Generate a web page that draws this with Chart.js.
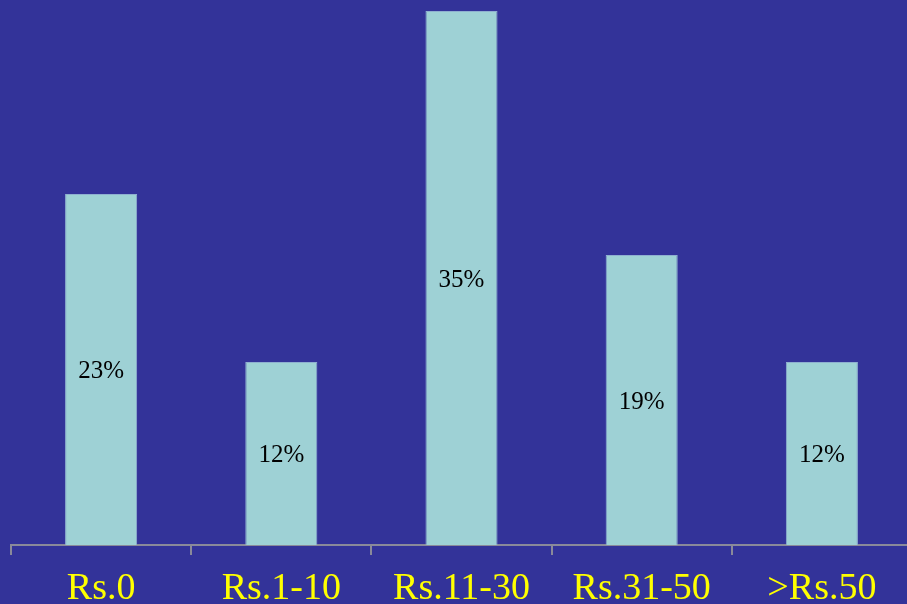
<!DOCTYPE html>
<html>
<head>
<meta charset="utf-8">
<script src="https://cdn.jsdelivr.net/npm/chart.js@4"></script>
<style>
  html, body { margin: 0; padding: 0; overflow: hidden; background: #333399; }
  #wrap { position: absolute; left: 0; top: 0; width: 912px; height: 604px; }
</style>
</head>
<body>
<div id="wrap"><canvas id="myChart" width="912" height="604"></canvas></div>
<script>
// Dados
const categories = ['Rs.0', 'Rs.1-10', 'Rs.11-30', 'Rs.31-50', '>Rs.50'];
const shares = [23, 12, 35, 19, 12];

// escreve o valor no meio de cada barra
const barLabels = {
    id: 'barLabels',
    afterDatasetsDraw(chart) {
        const ctx = chart.ctx;
        const meta = chart.getDatasetMeta(0);
        ctx.save();
        ctx.fillStyle = '#000000';
        ctx.font = '25px "Liberation Serif", "Times New Roman", serif';
        ctx.textAlign = 'center';
        ctx.textBaseline = 'middle';
        meta.data.forEach((bar, i) => {
            const mid = (bar.y + bar.base) / 2;
            ctx.fillText(shares[i] + '%', bar.x, mid + 2);
        });
        ctx.restore();
    }
};

const ctx = document.getElementById('myChart').getContext('2d');
const myChart = new Chart(ctx, {
    type: 'bar',
    data: {
        labels: categories,
        datasets: [{
            data: shares,
            backgroundColor: '#9ED1D5',
            borderColor: '#8FB0D0',
            borderWidth: 1,
            categoryPercentage: 1,
            barPercentage: 0.4
        }]
    },
    options: {
        responsive: false,
        animation: false,
        layout: { padding: { left: 11, right: 0, top: 11, bottom: 0 } },
        plugins: { legend: { display: false }, tooltip: { enabled: false } },
        scales: {
            y: {
                display: false,
                min: 0,
                max: 35
            },
            x: {
                offset: true,
                afterFit(scale) { scale.height = 59; },
                grid: {
                    offset: true,
                    drawOnChartArea: false,
                    color: '#8A8A9A',
                    lineWidth: 2,
                    tickLength: 10
                },
                border: { color: '#8A8A9A', width: 2 },
                ticks: {
                    color: '#FFFF00',
                    padding: 11,
                    maxRotation: 0,
                    font: { family: '"Liberation Serif", "Times New Roman", serif', size: 38 }
                }
            }
        }
    },
    plugins: [barLabels]
});
</script>
</body>
</html>
